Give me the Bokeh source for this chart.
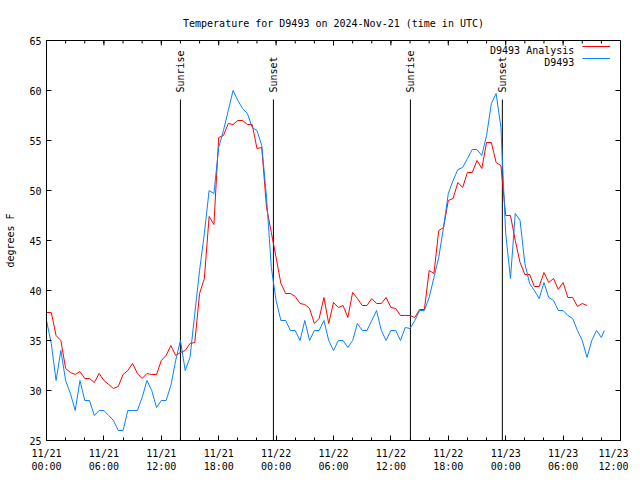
import math
from bokeh.plotting import figure
from bokeh.models import FixedTicker, Legend, LegendItem, Label, Range1d
from bokeh.core.properties import value
from bokeh.embed import file_html
from bokeh.resources import INLINE

FONT = "DejaVu Sans Mono"

# hours since 2024-11-21 00:00 UTC
analysis_hours = [i * 0.5 for i in range(114)]
analysis_temp = [37.8, 37.8, 35.5, 35.0, 32.2, 31.8, 31.6, 31.9, 31.2, 31.2,
                 30.8, 31.7, 31.0, 30.6, 30.2, 30.4, 31.6, 32.0, 32.7, 31.7,
                 31.2, 31.7, 31.6, 31.6, 33.0, 33.5, 34.5, 33.5, 33.8, 34.0,
                 34.7, 34.8, 39.7, 41.2, 47.4, 46.6, 55.3, 55.5, 56.7, 56.6,
                 57.0, 57.0, 56.6, 56.6, 54.2, 54.3, 48.3, 45.8, 43.3, 40.7,
                 39.7, 39.7, 39.4, 38.7, 38.6, 38.2, 36.7, 37.2, 39.3, 36.7,
                 38.8, 38.3, 38.5, 37.3, 39.8, 39.2, 38.5, 38.5, 39.2, 38.7,
                 38.7, 39.3, 38.3, 38.2, 37.5, 37.5, 37.5, 37.3, 38.1, 38.1,
                 42.0, 41.7, 46.0, 46.3, 49.0, 49.2, 50.8, 50.3, 51.8, 51.8,
                 53.0, 52.2, 54.8, 54.8, 52.8, 52.5, 47.5, 47.5, 45.0, 42.8,
                 41.6, 41.6, 40.4, 40.4, 41.8, 40.8, 41.2, 40.1, 40.8, 39.3,
                 39.3, 38.4, 38.7, 38.5]

station_hours = [i * 0.5 for i in range(117)] + [58.3]
station_temp = [37.0, 34.7, 31.0, 34.0, 31.0, 29.7, 28.0, 31.0, 29.0, 29.0,
                27.5, 28.0, 28.0, 27.5, 27.0, 26.0, 26.0, 28.0, 28.0, 28.0,
                29.3, 31.0, 30.0, 28.3, 29.0, 29.0, 30.5, 33.0, 35.0, 32.0,
                33.3, 37.7, 42.0, 45.7, 50.0, 49.7, 54.3, 56.0, 58.0, 60.0,
                59.0, 58.2, 57.7, 56.3, 56.0, 54.5, 49.3, 42.3, 39.0, 37.0,
                37.0, 36.0, 36.0, 35.0, 37.0, 35.0, 36.0, 36.0, 37.0, 35.0,
                34.0, 35.0, 35.0, 34.3, 35.0, 36.7, 36.0, 36.0, 37.0, 38.0,
                36.0, 35.0, 36.0, 36.0, 35.0, 36.3, 36.2, 37.0, 38.0, 38.0,
                39.3, 41.3, 43.3, 46.3, 49.7, 51.0, 52.1, 52.3, 53.2, 54.1,
                54.1, 53.5, 55.5, 58.7, 59.7, 56.3, 45.7, 41.2, 47.7, 47.0,
                42.7, 40.7, 40.0, 39.2, 40.8, 39.3, 39.0, 38.0, 38.0, 37.5,
                37.2, 36.0, 35.0, 33.3, 35.0, 36.0, 35.3, 36.0]

event_hours = [14.0, 23.72, 38.04, 47.65]
event_names = ["Sunrise", "Sunset", "Sunrise", "Sunset"]

x_ticks = [0, 6, 12, 18, 24, 30, 36, 42, 48, 54, 60]
x_tick_labels = ["11/21\n00:00", "11/21\n06:00", "11/21\n12:00", "11/21\n18:00",
                 "11/22\n00:00", "11/22\n06:00", "11/22\n12:00", "11/22\n18:00",
                 "11/23\n00:00", "11/23\n06:00", "11/23\n12:00"]
x_minor = [h for h in range(0, 61, 2)]
y_ticks = [25, 30, 35, 40, 45, 50, 55, 60, 65]

X0, X1, Y0, Y1 = 0, 60, 25, 65
FW, FH = 574, 400

p = figure(frame_width=FW, frame_height=FH, output_backend="svg", toolbar_location=None,
           x_range=Range1d(X0, X1), y_range=Range1d(Y0, Y1),
           title="Temperature for D9493 on 2024-Nov-21 (time in UTC)",
           min_border_left=46, min_border_right=8, min_border_top=40,
           min_border_bottom=32)
p.title.text_font = FONT
p.title.text_font_size = "10px"
p.title.text_font_style = "normal"
p.title.text_color = "black"
p.title.align = "center"
p.title.standoff = 24
p.grid.visible = False
p.outline_line_color = "black"
p.background_fill_color = "white"
p.border_fill_color = "white"

def style_axis(ax, ticker):
    ax.ticker = ticker
    ax.axis_line_color = "black"
    ax.major_tick_line_color = "black"
    ax.minor_tick_line_color = "black"
    ax.major_tick_in = 5
    ax.major_tick_out = 0
    ax.minor_tick_in = 3
    ax.minor_tick_out = 0
    ax.major_label_text_font = FONT
    ax.major_label_text_font_size = "10px"
    ax.major_label_text_color = "black"

xa = p.xaxis[0]
style_axis(xa, FixedTicker(ticks=x_ticks, minor_ticks=x_minor))
xa.major_label_overrides = {t: l for t, l in zip(x_ticks, x_tick_labels)}
xa.major_label_standoff = 7

ya = p.yaxis[0]
style_axis(ya, FixedTicker(ticks=y_ticks, minor_ticks=[]))
ya.major_label_standoff = 5
ya.axis_label = "degrees F"
ya.axis_label_text_font = FONT
ya.axis_label_text_font_size = "10px"
ya.axis_label_text_font_style = "normal"
ya.axis_label_text_color = "black"
ya.axis_label_standoff = 10

# mirrored inward ticks on top and right edges (lengths in px converted to data units)
dx = (X1 - X0) / FW
dy = (Y1 - Y0) / FH
p.segment(x0=x_minor, y0=[Y1] * len(x_minor), x1=x_minor, y1=[Y1 - 3 * dy] * len(x_minor),
          line_color="black", line_width=1)
p.segment(x0=x_ticks, y0=[Y1] * len(x_ticks), x1=x_ticks, y1=[Y1 - 5 * dy] * len(x_ticks),
          line_color="black", line_width=1)
p.segment(x0=[X1] * len(y_ticks), y0=y_ticks, x1=[X1 - 5 * dx] * len(y_ticks), y1=y_ticks,
          line_color="black", line_width=1)

# sunrise / sunset markers
p.segment(x0=event_hours, y0=[Y0] * 4, x1=event_hours, y1=[59.1] * 4,
          line_color="black", line_width=1)
p.text(x=event_hours, y=[59.8] * 4, text=event_names, angle=math.pi / 2,
       text_align="left", text_baseline="middle", text_font=value(FONT),
       text_font_size="10px", text_color="black")

r_red = p.line(analysis_hours, analysis_temp, line_color="#ff0000", line_width=1)
r_blue = p.line(station_hours, station_temp, line_color="#0a80ff", line_width=1)

legend = Legend(items=[LegendItem(label=" ", renderers=[r_red]),
                       LegendItem(label=" ", renderers=[r_blue])],
                location="top_right", margin=0, padding=4, spacing=0,
                glyph_width=28, glyph_height=12, label_standoff=10,
                label_width=0, label_height=12,
                label_text_font=FONT, label_text_font_size="10px",
                border_line_color=None, background_fill_alpha=0)
p.add_layout(legend)

for txt, yy in (("D9493 Analysis", 64.0), ("D9493", 62.8)):
    p.add_layout(Label(x=55.17, y=yy, text=txt, text_align="right",
                       text_baseline="middle", text_font=FONT,
                       text_font_size="10px", text_color="black"))

open("out.html", "w").write(file_html(p, INLINE))
